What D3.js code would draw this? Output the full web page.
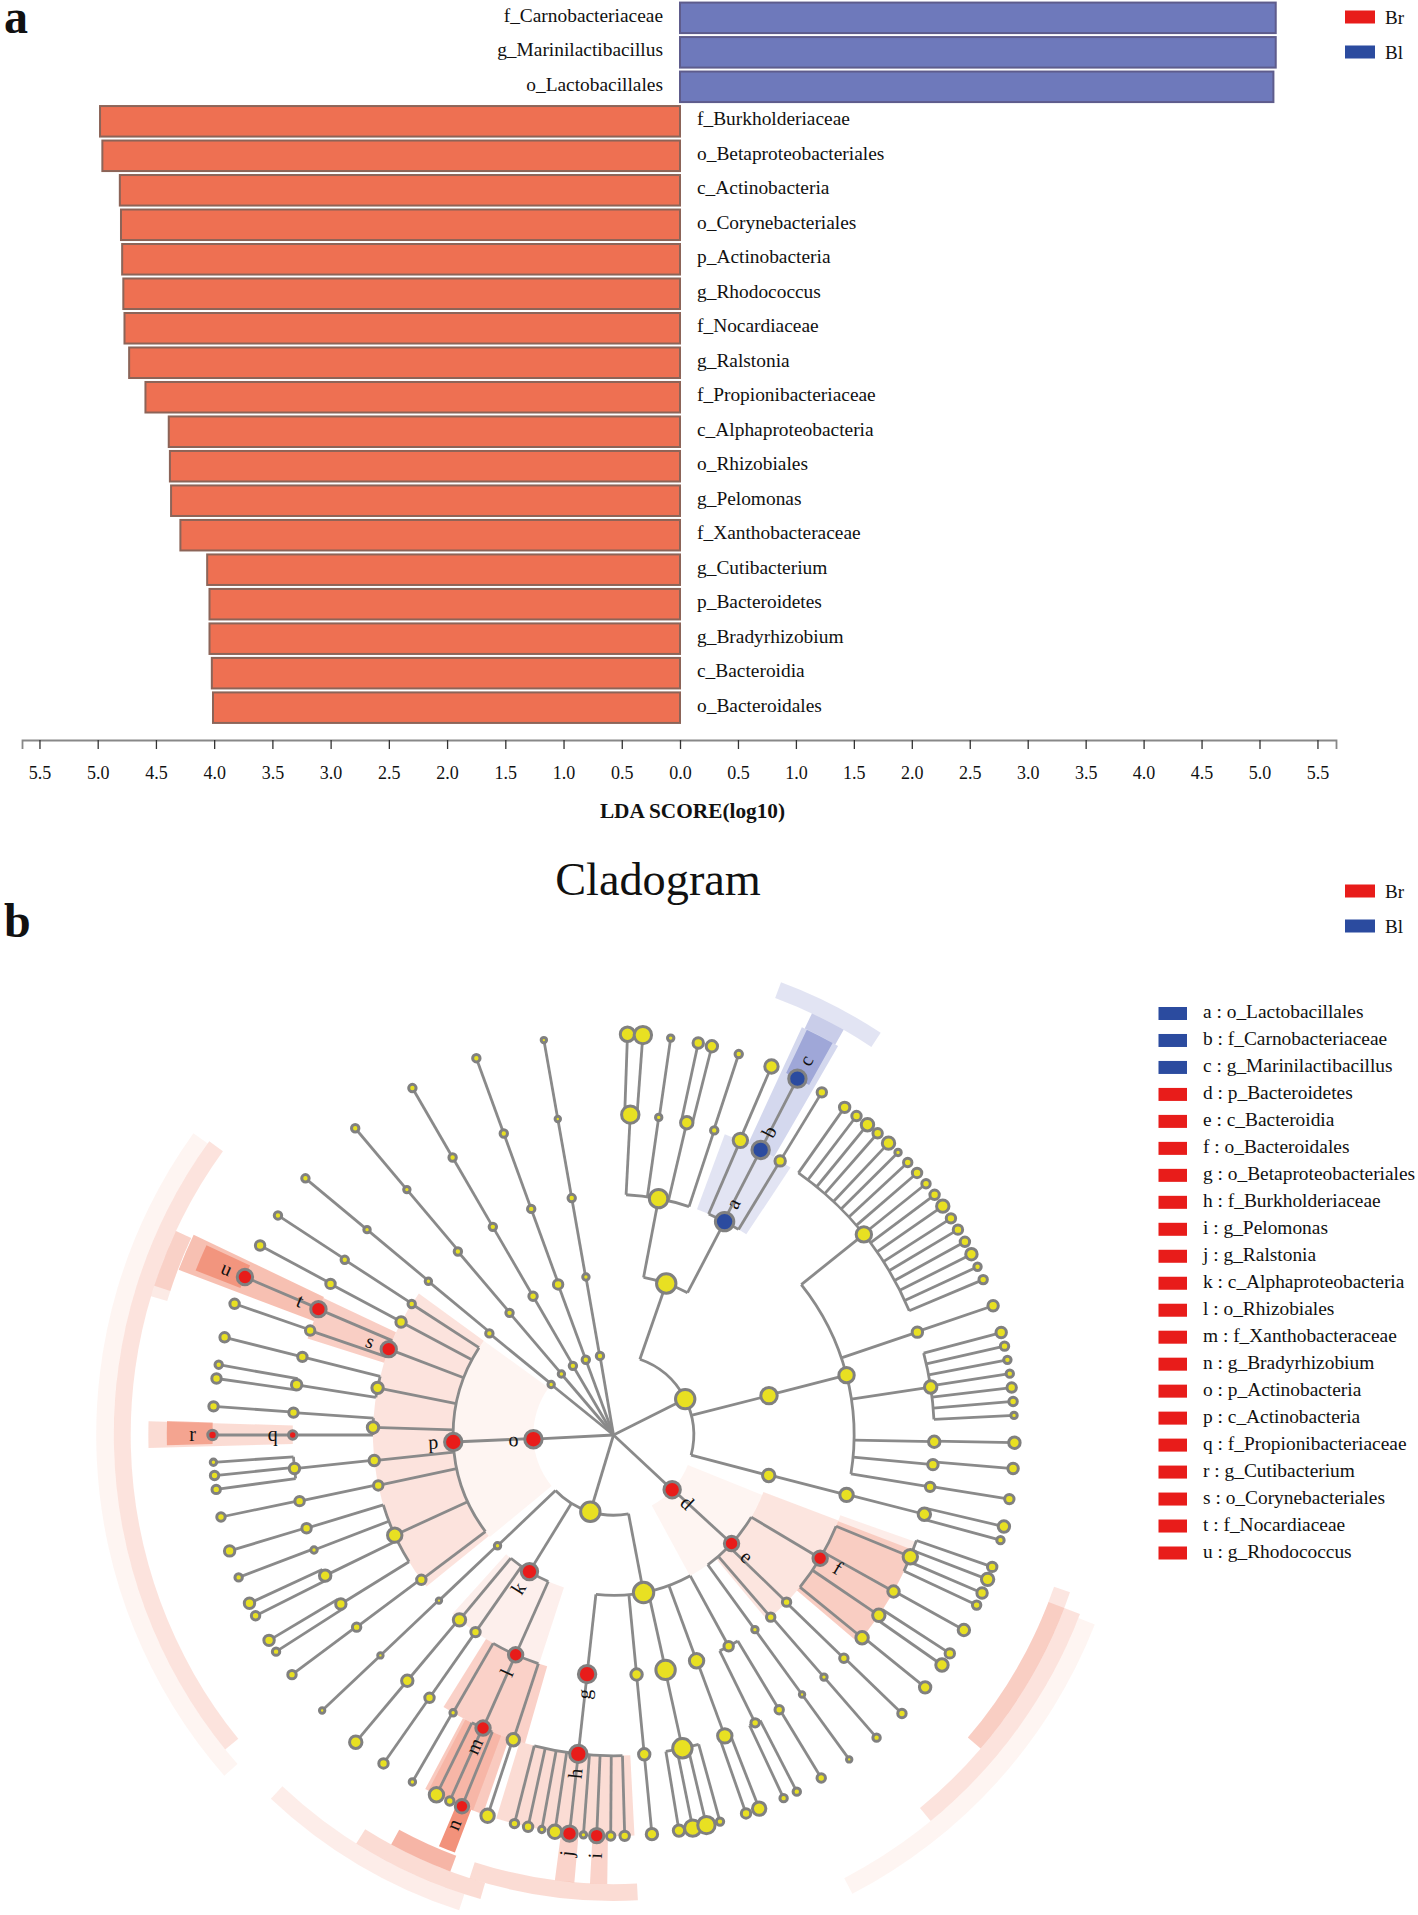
<!DOCTYPE html>
<html><head><meta charset="utf-8">
<script src="https://cdn.jsdelivr.net/npm/d3@7/dist/d3.min.js"></script>
<style>html,body{margin:0;padding:0;background:#fff}svg{display:block}text{font-family:"Liberation Serif",serif;fill:#111}</style>
</head><body><div id="chart"></div>
<script>
// ---------- LDA bars ----------
const barNames=["f_Carnobacteriaceae","g_Marinilactibacillus","o_Lactobacillales","f_Burkholderiaceae","o_Betaproteobacteriales","c_Actinobacteria","o_Corynebacteriales","p_Actinobacteria","g_Rhodococcus","f_Nocardiaceae","g_Ralstonia","f_Propionibacteriaceae","c_Alphaproteobacteria","o_Rhizobiales","g_Pelomonas","f_Xanthobacteraceae","g_Cutibacterium","p_Bacteroidetes","g_Bradyrhizobium","c_Bacteroidia","o_Bacteroidales"];
const barScores=[5.14,5.14,5.12,-4.98,-4.96,-4.81,-4.80,-4.79,-4.78,-4.77,-4.73,-4.59,-4.39,-4.38,-4.37,-4.29,-4.06,-4.04,-4.04,-4.02,-4.01];
const axisTicks=[-5.5,-5,-4.5,-4,-3.5,-3,-2.5,-2,-1.5,-1,-0.5,0,0.5,1,1.5,2,2.5,3,3.5,4,4.5,5,5.5];
const groupNames=["Br","Bl"];
// ---------- cladogram: [id, parent, angle in degrees, node size, group] ----------
const phyla=[["P1",null,63.4,11],["d",null,133,9.5,"r"],["P3",null,196.8,11],["o",null,267,10,"r"],["S1",null,309,4.5],["S2",null,319.5,4.5],["S3",null,329.6,5],["S4",null,339.8,5],["S5",null,350.3,5]];
const classes=[["C1","P1",19.2,11],["C2","P1",75.8,9.5],["C3","P1",104.6,7.5],["e","d",132.6,8.5,"r"],["A","P3",169.2,11.5],["k","P3",211.6,9.5,"r"],["K2","P3",226.3,4.5],["p","o",267.5,10,"r"],["S1c","S1",309.3,5],["S2c","S2",319.6,5],["S3c","S3",329.9,5.5],["S4c","S4",339.8,6],["S5c","S5",350.1,4.5]];
const orders=[["O1","C1",10.8,10.5],["a","C1",27.5,10.5,"b"],["O3","C2",75.6,9],["O4","C3",104.4,8],["f","e",120.8,8.5,"r"],["O134","e",134,5.5],["O139","e",139.2,5.5],["O144","e",144,4.5],["O151","A",151.4,6],["O160","A",159.8,8.5],["O167","A",167.5,11],["O174","A",174.5,7],["g","A",186.3,10,"r"],["l","k",204,8.5,"r"],["O215","k",215,6],["O220","k",219.8,7.5],["O226","K2",226.5,4],["O233","p",233,6],["O245","p",245.4,8.5],["O258","p",257.9,6],["O264","p",263.9,6.5],["O272","p",271.8,7],["O281","p",281.3,7],["s","p",290.9,9,"r"],["O298","p",298,6.5],["O303","p",303,5],["S1o","S1c",309.7,4.5],["S2o","S2c",319.7,5],["S3o","S3c",329.9,5],["S4o","S4c",340,5],["S5o","S5c",350,5]];
const families=[["F3","O1",3,10],["F8","O1",8.1,4.5],["F13","O1",13.2,7.5],["F18","O1",18.3,5],["F23","a",23.3,8.5],["b","a",27.3,10,"b"],["F31","a",31.3,6.5],["F51","O3",51.3,9],["F71","O3",71.3,6.5],["F81","O3",81.4,7.5],["F91","O3",91.2,7],["F95","O3",95.3,6.5],["F99","O3",99.3,6],["F104","O4",104.3,7.5],["F112","f",112.3,8.5],["F119","f",119.2,7],["F124","f",124.2,7.5],["F129","f",129.2,7.5],["F134","O134",134.1,5.5],["F139","O139",139,4.5],["F144","O144",144,4],["F149","O151",148.9,5.5],["F154","O151",153.8,5.5],["F160","O160",159.7,8.5],["F168","O167",167.6,11],["F174","O174",174.5,7],["h","g",186.3,10,"r"],["F198","l",198.2,7.5],["m","l",204,8.5,"r"],["F210","l",210,4.5],["F215","O215",215,6],["F220","O220",220,7],["F226","O226",226.6,4],["F233","O233",233.2,5.5],["F238","O245",238.2,6.5],["F244","O245",244,7],["F249","O245",249,4.5],["F253","O245",253.1,6],["F258","O258",258.1,6],["F264","O264",264,6.5],["q","O272",270,5.5,"r"],["F274","O272",274,6],["F279","O281",279,6.5],["F284","O281",284.1,6],["F289","s",289,6],["t","s",293.1,9,"r"],["F298","O298",298.1,6],["F303","O303",303.1,5],["S1f","S1o",309.8,4.5],["S2f","S2o",319.9,4.5],["S3f","S3o",329.9,5],["S4f","S4o",340,5],["S5f","S5o",350,4]];
const genera=[["","F3",2,8.5],["","F3",4.2,10],["","F8",8.2,4.5],["","F13",12.2,6.5],["","F13",14.2,7],["","F18",18.2,5],["","F23",23.2,8],["c","b",27.3,10,"b"],["","F31",31.3,6],
["","F51",35.2,6.5],["","F51",37.3,6],["","F51",39.3,7.5],["","F51",41.2,6],["","F51",43.3,7.5],["","F51",45.2,4.5],["","F51",47.2,5.5],["","F51",49.2,6],["","F51",51.2,5.5],["","F51",53.2,6],["","F51",55.2,7.5],["","F51",57.3,6],["","F51",59.2,6],["","F51",61.2,6],["","F51",63.2,7],["","F51",65.2,5],["","F51",67.2,5.5],
["","F71",71.2,6.5],["","F81",75.2,6.5],["","F81",77.2,5.5],["","F81",79.2,5],["","F81",81.2,5],["","F81",83.2,6],["","F81",85.2,5.5],["","F81",87.2,4.5],["","F91",91.1,7],["","F95",94.8,6.5],["","F99",99.2,6],["","F104",103.2,7],["","F104",105.2,5],
["","F112",109.2,6],["","F112",111.1,7.5],["","F112",113.2,6.5],["","F112",115.1,5.5],["","F119",119.1,7],["","F124",123,6],["","F124",125,7.5],["","F129",129,7],["","F134",134,5.5],["","F139",139,5],["","F144",144,4],["","F149",148.8,5.5],["","F154",154.9,5],["","F154",152.8,5],["","F160",160.7,6],["","F160",158.7,8],["","F168",170.6,7],["","F168",168.6,9.5],["","F168",166.6,10],["","F168",164.6,5],["","F174",174.5,7],
["","h",178.4,6],["","h",180.4,5.5],["i","h",182.4,8.5,"r"],["","h",184.3,4.5],["j","h",186.3,9,"r"],["","h",188.4,8],["","h",190.3,4.5],["","h",192.3,6],["","h",194.3,5.5],["","F198",198.3,8],["n","m",202.2,8,"r"],["","m",204.1,5.5],["","m",206.2,8.5],["","F210",210.1,4.5],["","F215",215,6],["","F220",220,7.5],["","F226",226.6,4],["","F233",233.3,5.5],["","F238",237.3,5],["","F238",239.2,6.5],["","F244",243.2,5.5],["","F244",245.2,6.5],["","F249",249.2,5],["","F253",253.2,6.5],["","F258",258.2,5.5],["","F264",262.2,5.5],["","F264",264.2,5.5],["","F264",266.1,4.5],["r","q",270,6,"r"],["","F274",274.1,6],["","F279",278.1,6],["","F279",280.1,5],["","F284",284.1,6],["","F289",289.1,6],["u","t",293.2,9,"r"],["","F298",298.2,6],["","F303",303.2,5],["","S1f",309.8,5],["","S2f",319.9,5],["","S3f",329.9,5],["","S4f",340,5],["","S5f",350,4]];
// highlighted sectors: [start angle, end angle, inner ring, outer ring, strength, group]
const sectors=[
[230.5,306,1,2,.06,"r"],[231,306,2,3,.16,"r"],[287.5,295.3,3,4,.28,"r"],[290.8,295.5,4,5.8,.36,"r"],[291.5,295,5,5.6,.38,"r"],
[268.4,271.7,4,5.8,.2,"r"],[268.7,271.8,5,5.57,.4,"r"],
[198,222,2,3,.09,"r"],[196,212,3,4,.26,"r"],[199,208,4,5,.3,"r"],[200.5,207.5,4,5,.16,"r"],[200.8,203,5,5.57,.62,"r"],
[177,197,4,5,.2,"r"],[185,187.5,5,5.6,.25,"r"],[180.8,183,5,5.6,.25,"r"],
[112,151.5,1,2,.06,"r"],[110.8,140.3,2,3,.15,"r"],[109.5,130.3,3,4,.1,"r"],[111,130.3,3,4,.2,"r"],
[228.8,305.7,6.23,6.45,.06,"r"],[231,306,6.02,6.23,.16,"r"],[286.7,295,5.81,6.02,.12,"r"],[288,295,5.81,6.02,.16,"r"],
[198,223.3,6.02,6.23,.1,"r"],[196,212.2,5.81,6.02,.2,"r"],[200.5,208.5,5.6,5.81,.42,"r"],[177,198,5.6,5.81,.2,"r"],
[109,130.5,5.81,6.02,.14,"r"],[111,130.5,5.81,6.02,.16,"r"],[111,140.6,6.02,6.23,.16,"r"],[111.5,152.5,6.23,6.45,.06,"r"],
[20.3,33.5,3,4,.15,"b"],[24.8,30,4,5.6,.22,"b"],[25.5,29.2,5,5.6,.35,"b"],[25.2,29.6,5.6,5.81,.28,"b"],[20.3,33.6,5.81,6.02,.15,"b"]];
const cladeLegend=["a : o_Lactobacillales","b : f_Carnobacteriaceae","c : g_Marinilactibacillus","d : p_Bacteroidetes","e : c_Bacteroidia","f : o_Bacteroidales","g : o_Betaproteobacteriales","h : f_Burkholderiaceae","i : g_Pelomonas","j : g_Ralstonia","k : c_Alphaproteobacteria","l : o_Rhizobiales","m : f_Xanthobacteraceae","n : g_Bradyrhizobium","o : p_Actinobacteria","p : c_Actinobacteria","q : f_Propionibacteriaceae","r : g_Cutibacterium","s : o_Corynebacteriales","t : f_Nocardiaceae","u : g_Rhodococcus"];
const cladeLegendGroup=["b","b","b","r","r","r","r","r","r","r","r","r","r","r","r","r","r","r","r","r","r"];

const W=1418,H=1915;
const RED="#e81c1a",BLUE="#2b4b9f",LINE="#8a8a8a",YEL="#e8e022";
const svg=d3.select("#chart").append("svg").attr("width",W).attr("height",H);

// ========== panel a ==========
const x=d3.scaleLinear().domain([-5.65,0,5.66]).range([22,680,1336]);
const y=d3.scaleBand().domain(barNames).range([0.5,725]).paddingInner(.115).paddingOuter(.06);
const bars=svg.append("g");
bars.selectAll("rect").data(barNames).join("rect")
 .attr("x",(d,i)=>x(Math.min(0,barScores[i]))).attr("y",d=>y(d))
 .attr("width",(d,i)=>Math.abs(x(barScores[i])-x(0))).attr("height",y.bandwidth())
 .attr("fill",(d,i)=>barScores[i]>0?"#6e79bb":"#ee7052")
 .attr("stroke",(d,i)=>barScores[i]>0?"#5e5c8c":"#8c6458").attr("stroke-width",2);
bars.selectAll("text").data(barNames).join("text")
 .attr("x",(d,i)=>barScores[i]>0?x(0)-17:x(0)+17).attr("y",d=>y(d)+y.bandwidth()/2)
 .attr("dy","0.2em").attr("font-size",19.4).attr("text-anchor",(d,i)=>barScores[i]>0?"end":"start").text(d=>d);
const axis=d3.axisBottom(x).tickValues(axisTicks).tickSize(9).tickPadding(17).tickFormat(d=>Math.abs(d).toFixed(1));
const ax=svg.append("g").attr("transform","translate(0,740)").call(axis);
ax.select(".domain").attr("stroke","#888").attr("stroke-width",1.8);
ax.selectAll(".tick line").attr("stroke","#333").attr("stroke-width",1.3);
ax.selectAll("text").attr("font-size",18).attr("font-family","Liberation Serif").attr("fill","#111");
svg.append("text").attr("x",692.5).attr("y",818).attr("text-anchor","middle").attr("font-size",21.3).attr("font-weight","bold").text("LDA SCORE(log10)");

function groupLegend(y0){
 const g=svg.append("g");
 groupNames.forEach((n,i)=>{
  g.append("rect").attr("x",1345).attr("y",y0+i*35).attr("width",30).attr("height",13).attr("fill",i?BLUE:RED);
  g.append("text").attr("x",1385).attr("y",y0+i*35+13).attr("font-size",19).text(n);
 });
}
groupLegend(10.5); groupLegend(884.5);
svg.append("text").attr("x",4).attr("y",33).attr("font-size",48).attr("font-weight","bold").text("a");
svg.append("text").attr("x",4).attr("y",937).attr("font-size",48).attr("font-weight","bold").text("b");
svg.append("text").attr("x",658).attr("y",895).attr("text-anchor","middle").attr("font-size",46.3).text("Cladogram");

// ========== panel b ==========
const cx=613.5,cy=1435;
const rad=d3.scaleLinear().domain([0,5]).range([0,401]);
const ang=d3.scaleLinear().domain([0,360]).range([0,2*Math.PI]);
const pt=(a,l)=>[cx+rad(l)*Math.sin(ang(a)),cy-rad(l)*Math.cos(ang(a))];
const tree=svg.append("g");
const canvasG=tree.append("g").attr("transform",`translate(${cx},${cy})`);
const arc=d3.arc();
canvasG.selectAll("path.sec").data(sectors).join("path").attr("class","sec")
 .attr("d",s=>arc({startAngle:ang(s[0]),endAngle:ang(s[1]),innerRadius:rad(s[2]),outerRadius:rad(s[3])}))
 .attr("fill",s=>s[5]==="r"?"#ea4f2a":"#3c4db0").attr("fill-opacity",s=>s[4]);

const levels=[phyla,classes,orders,families,genera];
const nodes=[],byId={};
levels.forEach((arr,li)=>arr.forEach(n=>{
 const o={id:n[0],parent:n[1],a:n[2],size:n[3],grp:n[4]||"n",level:li+1,kids:[]};
 nodes.push(o); if(o.id) byId[o.id]=o;
}));
nodes.forEach(n=>{ if(n.parent) byId[n.parent].kids.push(n); });
const linkG=tree.append("g").attr("fill","none").attr("stroke",LINE).attr("stroke-width",2.8);
linkG.selectAll("line").data(nodes).join("line")
 .attr("x1",n=>pt(n.a,n.level-1)[0]).attr("y1",n=>pt(n.a,n.level-1)[1])
 .attr("x2",n=>pt(n.a,n.level)[0]).attr("y2",n=>pt(n.a,n.level)[1]);
const parents=nodes.filter(n=>n.kids.length>0);
linkG.selectAll("path").data(parents).join("path")
 .attr("transform",`translate(${cx},${cy})`)
 .attr("d",n=>{
  const as=n.kids.map(k=>k.a).concat([n.a]);
  const r=rad(n.level);
  return arc({startAngle:ang(d3.min(as)),endAngle:ang(d3.max(as)),innerRadius:r,outerRadius:r});
 });
const fillOf={n:YEL,r:RED,b:BLUE};
tree.append("g").selectAll("circle").data(nodes).join("circle")
 .attr("cx",n=>pt(n.a,n.level)[0]).attr("cy",n=>pt(n.a,n.level)[1])
 .attr("r",n=>n.size-1.3).attr("fill",n=>fillOf[n.grp]).attr("stroke","#808080").attr("stroke-width",3);
const lettered=nodes.filter(n=>n.grp!=="n");
tree.append("g").selectAll("text").data(lettered).join("text")
 .attr("transform",n=>{
   const p=pt(n.a,n.level+20/80.2);
   const rot=n.a<180?n.a-90:n.a+90;
   return `translate(${p[0]},${p[1]}) rotate(${rot})`;
 })
 .attr("text-anchor","middle").attr("dy","0.3em").attr("font-size",20).text(n=>n.id);

// clade legend
const lg=svg.append("g");
const ly=d3.scaleLinear().domain([0,20]).range([1013.5,1553]);
lg.selectAll("rect").data(cladeLegend).join("rect")
 .attr("x",1158.5).attr("y",(d,i)=>ly(i)-6.5).attr("width",28.5).attr("height",13)
 .attr("fill",(d,i)=>cladeLegendGroup[i]==="b"?BLUE:RED);
lg.selectAll("text").data(cladeLegend).join("text")
 .attr("x",1203).attr("y",(d,i)=>ly(i)).attr("dy","0.24em").attr("font-size",19.4).text(d=>d);
</script></body></html>
